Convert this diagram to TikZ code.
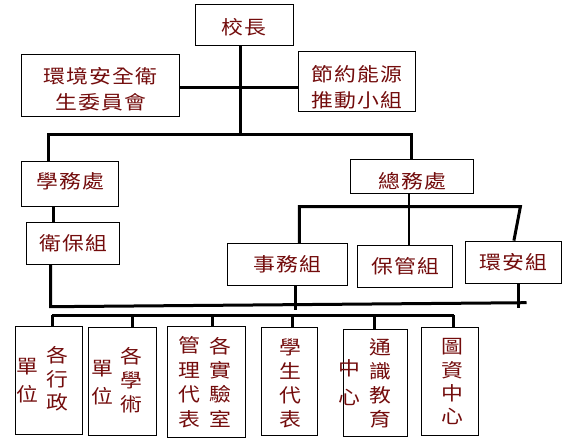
\documentclass[tikz,border=0pt]{standalone}
\usepackage{fontspec}
\newfontfamily\cjk[FakeStretch=1.15,LetterSpace=6]{Noto Sans CJK TC}
\definecolor{txt}{RGB}{115,12,12}
\newcommand\lowertext[2]{\raisebox{-#1}[\height][\depth]{#2}}
\begin{document}
\begin{tikzpicture}[x=1pt,y=-1pt,
  box/.style={draw=black, line width=0.9pt, inner sep=0pt, text=txt,
    font=\cjk\fontsize{19}{26}\selectfont},
  col/.style={inner sep=0pt, text=txt, align=center,
    font=\cjk\fontsize{19}{24}\selectfont},
  colwide/.style={inner sep=0pt, text=txt, align=center,
    font=\cjk\fontsize{19}{28.4}\selectfont},
  busline/.style={line width=3pt},
  midline/.style={line width=2.2pt}]
\useasboundingbox (0,0) rectangle (564,446);
% top level
\node[box, minimum width=98pt, minimum height=40.7pt] (xiao) at (244,24.7) {\lowertext{3pt}{校長}};
\node[box, minimum width=158pt, minimum height=62pt] (huan) at (100.6,85.3)
  {\lowertext{6.5pt}{\begin{tabular}{@{}c@{}}環境安全衛\\生委員會\end{tabular}}};
\node[box, minimum width=117.4pt, minimum height=59.7pt] (jie) at (356.7,81.2)
  {\lowertext{8pt}{\begin{tabular}{@{}c@{}}節約能源\\推動小組\end{tabular}}};
% second level
\node[box, minimum width=97pt, minimum height=45pt] (xue) at (70.1,183.5) {\lowertext{-2pt}{學務處}};
\node[box, minimum width=93.4pt, minimum height=42pt] (wei) at (73,243.3) {衛保組};
\node[box, minimum width=123pt, minimum height=34pt] (zong) at (412,176.3) {\lowertext{5pt}{總務處}};
\node[box, minimum width=119.4pt, minimum height=42pt] (shi) at (287.6,264.3) {事務組};
\node[box, minimum width=95.2pt, minimum height=42pt] (bao) at (405,266) {保管組};
\node[box, minimum width=95.4pt, minimum height=42.3pt] (hua) at (513.3,262.2) {環安組};
% bottom boxes
\node[box, minimum width=67.8pt, minimum height=108.3pt] (b1) at (49,380.2) {};
\node[box, minimum width=68.2pt, minimum height=108pt] (b2) at (122.8,381.3) {};
\node[box, minimum width=78.2pt, minimum height=110.3pt] (b3) at (206.8,381.9) {};
\node[box, minimum width=56.2pt, minimum height=108.3pt] (b4) at (289.2,381.2) {};
\node[box, minimum width=64.2pt, minimum height=107pt] (b5) at (375.4,382.8) {};
\node[box, minimum width=57.3pt, minimum height=107.7pt] (b6) at (449.9,381.2) {};
% vertical texts
\node[col, font=\cjk\fontsize{19}{23.5}\selectfont] (b1r) at (57.7,379) {各\\行\\政};
\node[colwide] (b1l) at (27,380.8) {單\\位};
\node[col] (b2r) at (131.6,380.6) {各\\學\\術};
\node[colwide] (b2l) at (102.8,382.5) {單\\位};
\node[col, font=\cjk\fontsize{19}{24.4}\selectfont] (b3r) at (220,382.1) {各\\實\\驗\\室};
\node[col, font=\cjk\fontsize{19}{24.4}\selectfont] (b3l) at (189.3,382.1) {管\\理\\代\\表};
\node[col] (b4c) at (290.3,383.2) {學\\生\\代\\表};
\node[col] (b5r) at (380.5,383.7) {通\\識\\教\\育};
\node[colwide] (b5l) at (349.8,382.5) {中\\心};
\node[col, font=\cjk\fontsize{19}{23.3}\selectfont] (b6c) at (452.6,381.7) {圖\\資\\中\\心};
% connectors top
\coordinate (t0) at (240,135);
\draw[busline] (t0 |- xiao.south) -- (t0);
\coordinate (h1) at (240,87.7);
\draw[busline] (h1 -| huan.east) -- (h1 -| jie.west);
\coordinate (bL) at (48,135);
\coordinate (bR) at (411.8,135);
\draw[busline] (bL |- xue.north) -- (bL) -- (bR) -- (bR |- zong.north);
% left branch
\coordinate (xw) at (53.4,0);
\draw[midline] (xw |- xue.south) -- (xw |- wei.north);
\coordinate (lbL) at (50.5,306.7);
\coordinate (lbR) at (526.5,302.7);
\draw[busline] (lbL |- wei.south) -- (lbL) -- (lbR);
% right branch
\coordinate (zc) at (409.3,206.7);
\draw[midline] (zc |- zong.south) -- (zc) -- (zc |- bao.north);
\coordinate (hbL) at (299.3,206.7);
\coordinate (hbR) at (520.4,206.7);
\coordinate (ht) at (513.9,0);
\draw[busline] (hbL |- shi.north) -- (hbL) -- (hbR) -- (ht |- hua.north);
\coordinate (sd) at (295.7,310);
\draw[busline] (sd |- shi.south) -- (sd);
\coordinate (hd) at (518.2,308.3);
\draw[busline] (hd |- hua.south) -- (hd);
% lower bus
\coordinate (b2L) at (52.3,315);
\coordinate (b2R) at (453.7,315);
\draw[busline] (b2L) -- (b2R);
\foreach \n/\x in {b1/52.3, b2/132.7, b3/212.8, b4/292.8, b5/374, b6/453}
  \draw[busline] (b2L -| \x,0) -- (\x,0 |- \n.north);
\end{tikzpicture}
\end{document}
